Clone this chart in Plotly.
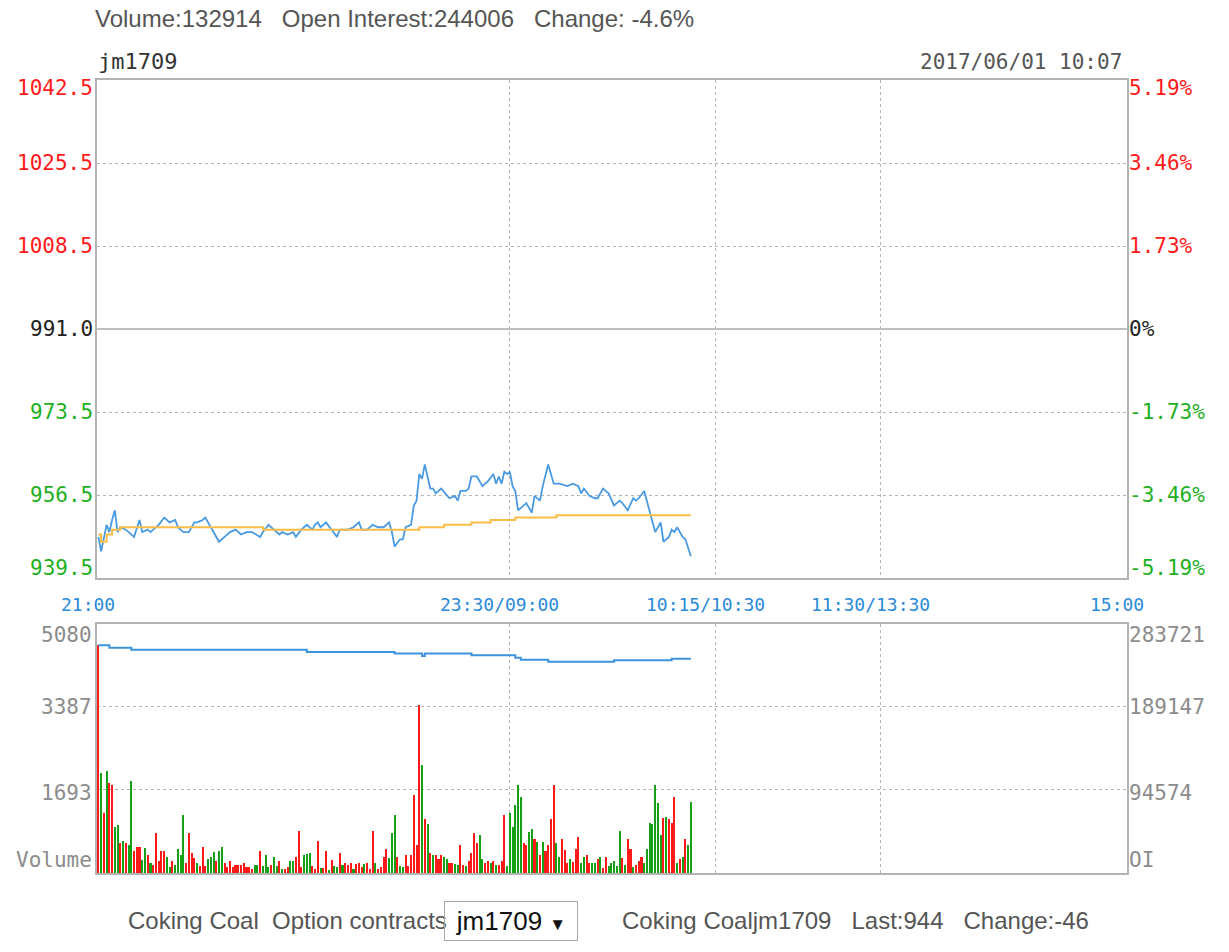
import plotly.graph_objects as go

# ---- data ----
prev_close = 991.0
price_labels = ["1042.5", "1025.5", "1008.5", "991.0", "973.5", "956.5", "939.5"]
pct_labels = ["5.19%", "3.46%", "1.73%", "0%", "-1.73%", "-3.46%", "-5.19%"]
time_ticks = [0, 150, 225, 285, 375]          # minutes from 21:00 (trading time)
time_labels = ["21:00", "23:30/09:00", "10:15/10:30", "11:30/13:30", "15:00"]

price_min = [0, 1, 3, 4, 5, 6, 7, 8, 10, 13, 15, 16, 18, 19, 20, 22, 24, 26, 28, 29,
             31, 33, 35, 36, 38, 39, 41, 43, 44, 46, 48, 50, 52, 54, 56, 59, 60, 62, 64, 66,
             67, 69, 71, 72, 74, 76, 78, 79, 80, 81, 83, 85, 87, 88, 91, 93, 95, 96, 98, 100,
             102, 104, 106, 107, 108, 110, 111, 112, 114, 115, 116, 117, 118, 119, 121, 122, 123, 125, 127, 128,
             130, 131, 132, 134, 135, 136, 138, 140, 142, 144, 145, 146, 147, 148, 149, 150, 151, 152, 153, 156,
             158, 159, 161, 162, 164, 166, 168, 171, 173, 175, 176, 177, 179, 181, 182, 184, 186, 188, 190, 191,
             193, 195, 196, 197, 199, 201, 203, 205, 206, 208, 209, 210, 211, 213, 214, 216]
price = [948, 945, 950.5, 949, 951.5, 953.5, 949, 950, 949.5, 948, 951.5, 949, 949.5, 949, 949.5, 950.5, 952, 951, 951.5, 950,
         949, 949, 951, 951, 951.5, 952, 950, 948, 947, 948, 949, 949.5, 948.5, 949, 949, 948, 949, 950.5, 949.5, 948.5,
         949, 948.5, 949, 948, 949.5, 950.5, 949.5, 950.5, 951, 950, 951, 949.5, 948, 949.5, 949.5, 950, 951, 949.5, 949.5, 950.5,
         950, 950, 951, 949, 946, 947.5, 947.5, 950, 950.5, 954.5, 955.5, 961, 960, 963, 958, 958, 957, 958, 956.5, 956,
         956.5, 955.5, 957.5, 957.5, 958, 960.5, 960.5, 958.5, 959.5, 961, 959, 960.5, 959, 961.5, 961, 961.5, 958.5, 957.5, 953.5, 955,
         953, 956.5, 955.5, 958.5, 963, 959, 959, 958.5, 959, 958.5, 957, 958, 956.5, 956, 956, 958, 957, 954.5, 955.5, 955,
         953.5, 956, 955.5, 956, 957.5, 953.5, 949, 951, 947, 948, 949.5, 949, 950, 948, 947.5, 944]

avg_min = [0, 1, 3, 5, 8, 59, 60, 113, 117, 126, 130, 136, 143, 151, 152, 166, 167, 216]
avg_price = [948.5, 947, 948.5, 949.5, 950, 950, 949.5, 949.5, 950, 950.5, 950.5, 951, 951.5, 951.5, 952, 952, 952.5, 952.5]

volume = [4650, 2040, 1230, 2090, 1840, 1800, 945, 980, 620, 660, 610, 570, 1880, 455, 540, 530, 265, 500, 370, 200,
          160, 820, 250, 455, 455, 330, 120, 250, 160, 480, 370, 1180, 210, 820, 415, 300, 200, 135, 540, 135,
          285, 330, 435, 250, 455, 525, 210, 115, 250, 115, 160, 160, 160, 200, 115, 115, 75, 160, 160, 455,
          135, 370, 115, 160, 330, 135, 250, 75, 75, 115, 250, 250, 330, 860, 115, 370, 390, 415, 135, 75,
          660, 95, 95, 455, 55, 265, 145, 115, 415, 160, 200, 160, 200, 75, 190, 200, 115, 190, 210, 75,
          860, 200, 75, 115, 330, 480, 300, 810, 1180, 330, 135,
          130, 370, 145, 370, 1590, 570, 3430, 2200, 1095, 1010, 400, 370, 370, 280, 370, 320, 280, 200, 200, 185,
          160, 570, 160, 145, 250, 415, 820, 620, 775, 280, 200, 250, 200, 250, 160, 160, 250, 1180, 135, 1230,
          945, 1390, 1800, 1545, 620, 570, 845, 890, 690, 640, 370, 640, 455, 570, 1095, 1800, 620, 320, 690, 470,
          210, 280, 230, 480, 730, 200, 320, 370, 200, 200, 200, 280, 320, 95, 320, 135, 200, 250, 135, 860,
          300, 160, 690, 480, 115, 160, 250, 320, 200, 480, 1025, 1010, 1800, 1435, 775, 1115, 1135, 1095, 1025, 1545,
          200, 280, 320, 690, 570, 1455]
# 1 = price up (red), 0 = price down (green)
vol_up = [1, 0, 1, 0, 1, 1, 0, 0, 1, 0, 1, 0, 0, 1, 1, 1, 0, 0, 1, 0,
          1, 1, 1, 1, 1, 0, 0, 1, 0, 0, 0, 0, 1, 1, 1, 1, 0, 1, 1, 1,
          0, 0, 0, 1, 0, 0, 1, 1, 1, 1, 1, 1, 1, 1, 1, 1, 1, 0, 0, 1,
          0, 0, 0, 1, 0, 0, 1, 0, 1, 1, 0, 0, 1, 1, 1, 0, 0, 0, 1, 1,
          1, 0, 1, 1, 0, 1, 0, 0, 1, 0, 1, 1, 1, 0, 1, 1, 1, 0, 1, 1,
          1, 0, 1, 1, 1, 1, 0, 0, 0, 1, 0,
          0, 1, 1, 1, 1, 1, 1, 0, 1, 0, 1, 0, 1, 1, 1, 0, 0, 1, 1, 0,
          0, 1, 1, 0, 1, 1, 1, 1, 0, 0, 1, 1, 0, 1, 0, 1, 1, 1, 0, 0,
          0, 0, 0, 0, 1, 1, 0, 0, 1, 0, 1, 0, 1, 1, 1, 1, 0, 0, 1, 1,
          1, 0, 1, 1, 1, 0, 0, 1, 1, 0, 0, 1, 0, 1, 1, 0, 0, 0, 0, 0,
          1, 0, 1, 1, 0, 1, 1, 1, 0, 0, 0, 0, 0, 0, 0, 1, 0, 1, 1, 1,
          0, 1, 0, 1, 0, 0]
vol_min = list(range(len(volume)))

oi_min = [0, 4, 12, 76, 108, 118, 119, 136, 152, 154, 164, 188, 209, 216]
oi = [259500, 256800, 254500, 251900, 250200, 247300, 250200, 248100, 245400, 243000, 240800, 242500, 244006, 244006]

vol_max = 5080
oi_max = 283721
vol_labels = ["5080", "3387", "1693", "Volume"]
oi_labels = ["283721", "189147", "94574", "OI"]

RED = "#ff1a1a"
GREEN = "#1fb01f"
BLUE = "#3d93de"
GRID = "#b5b5b5"
MONO = "DejaVu Sans Mono"
SANS = "Liberation Sans"

p_hi = float(price_labels[0])
p_lo = float(price_labels[-1])
p_step = (p_hi - p_lo) / 6
p_ticks = [p_hi - i * p_step for i in range(7)]

fig = go.Figure()

# price + average price
fig.add_trace(go.Scatter(x=price_min, y=price, mode="lines",
                         line=dict(color="#4a9ae2", width=1.8), xaxis="x", yaxis="y"))
fig.add_trace(go.Scatter(x=avg_min, y=avg_price, mode="lines", line_shape="hv",
                         line=dict(color="#fbbd45", width=2), xaxis="x", yaxis="y"))

# volume bars
fig.add_trace(go.Bar(x=vol_min, y=volume, width=0.75,
                     marker=dict(color=[RED if u else "#16a016" for u in vol_up], line_width=0),
                     xaxis="x2", yaxis="y2"))
# open interest
fig.add_trace(go.Scatter(x=oi_min, y=oi, mode="lines", line_shape="hv",
                         line=dict(color=BLUE, width=2), xaxis="x2", yaxis="y3"))

frame = dict(showline=True, mirror=True, linecolor="#b3b3b3", linewidth=2)
xgrid = dict(range=[-0.5, 375], tickvals=time_ticks[1:-1], showticklabels=False, ticks="",
             showgrid=True, gridcolor=GRID, griddash="3px,3px", gridwidth=1, zeroline=False)

fig.update_layout(
    width=1229, height=952,
    paper_bgcolor="white", plot_bgcolor="white",
    margin=dict(l=97, r=102, t=80, b=79),
    showlegend=False, bargap=0,
    xaxis=dict(domain=[0, 1], anchor="y", **xgrid, **frame),
    yaxis=dict(domain=[0.372, 1], range=[p_lo, p_hi], tickvals=p_ticks,
               showticklabels=False, ticks="", showgrid=True, gridcolor=GRID,
               griddash="3px,3px", zeroline=False, **frame),
    xaxis2=dict(domain=[0, 1], anchor="y2", **xgrid, **frame),
    yaxis2=dict(domain=[0, 0.314], range=[0, vol_max],
                tickvals=[vol_max / 3, vol_max * 2 / 3], showticklabels=False, ticks="",
                showgrid=True, gridcolor=GRID, griddash="3px,3px", zeroline=False, **frame),
    yaxis3=dict(overlaying="y2", side="right", range=[0, oi_max], showgrid=False,
                showticklabels=False, ticks="", zeroline=False),
)

# previous close line (solid)
fig.add_shape(type="line", xref="x domain", yref="y", x0=0, x1=1, y0=prev_close, y1=prev_close,
              line=dict(color="#bdbdbd", width=2))

ann = []
# price axis labels, left and right
for i, (v, lab, pct) in enumerate(zip(p_ticks, price_labels, pct_labels)):
    col = RED if v > prev_close + 0.01 else (GREEN if v < prev_close - 0.01 else "#222222")
    shift = -8 if i == 0 else (10 if i == 6 else 0)
    ann.append(dict(x=0, xref="paper", y=v, yref="y", text=lab, xanchor="right", xshift=-2,
                    yshift=shift, showarrow=False, font=dict(family=MONO, size=21, color=col)))
    ann.append(dict(x=1, xref="paper", y=v, yref="y", text=pct, xanchor="left", xshift=0,
                    yshift=shift, showarrow=False, font=dict(family=MONO, size=21, color=col)))

# volume / OI labels
vol_pos = [vol_max, vol_max * 2 / 3, vol_max / 3, 0]
vol_shift = [-11, 0, -3, 13]
for v, s, vl, ol in zip(vol_pos, vol_shift, vol_labels, oi_labels):
    ann.append(dict(x=0, xref="paper", y=v, yref="y2", text=vl, xanchor="right", xshift=-3,
                    yshift=s, showarrow=False, font=dict(family=MONO, size=21, color="#8c8c8c")))
    ann.append(dict(x=1, xref="paper", y=v, yref="y2", text=ol, xanchor="left", xshift=0,
                    yshift=s, showarrow=False, font=dict(family=MONO, size=21, color="#8c8c8c")))

# time labels
for t, lab in zip(time_ticks, time_labels):
    ann.append(dict(x=t, xref="x", y=0.3392, yref="paper", text=lab, xanchor="center", xshift=-10,
                    showarrow=False, font=dict(family=MONO, size=18, color="#2a8ad8")))

sp = "\u00a0\u00a0\u00a0"
ann.append(dict(x=-0.0039, xref="paper", y=1.078, yref="paper", xanchor="left", yanchor="middle",
                text="Volume:132914" + sp + "Open Interest:244006" + sp + "Change: -4.6%",
                showarrow=False, font=dict(family=SANS, size=24, color="#555555")))
ann.append(dict(x=-0.001, xref="paper", y=1.0227, yref="paper", xanchor="left", yanchor="middle",
                text="jm1709", showarrow=False, font=dict(family=MONO, size=22, color="#333333")))
ann.append(dict(x=0.9971, xref="paper", y=1.0227, yref="paper", xanchor="right", yanchor="middle",
                text="2017/06/01 10:07", showarrow=False, font=dict(family=MONO, size=21, color="#555555")))

# footer
ann.append(dict(x=0.0282, xref="paper", y=-0.0605, yref="paper", xanchor="left", yanchor="middle",
                text="Coking Coal\u00a0\u00a0Option contracts", showarrow=False,
                font=dict(family=SANS, size=24, color="#555555")))
ann.append(dict(x=0.4020, xref="paper", y=-0.0605, yref="paper", xanchor="center", yanchor="middle",
                text="jm1709 <span style='font-size:17px'>\u25bc</span>", showarrow=False,
                width=128, height=34, bordercolor="#a8a8a8", borderwidth=1, borderpad=2,
                font=dict(family=SANS, size=26, color="#111111")))
ann.append(dict(x=0.5078, xref="paper", y=-0.0605, yref="paper", xanchor="left", yanchor="middle",
                text="Coking Coaljm1709" + sp + "Last:944" + sp + "Change:-46", showarrow=False,
                font=dict(family=SANS, size=24, color="#555555")))

fig.update_layout(annotations=ann)

# drop the default 8px page margin so the figure fills the window exactly
fig.write_html("out.html", config={"displayModeBar": False},
               post_script="document.body.style.margin='0px';")
